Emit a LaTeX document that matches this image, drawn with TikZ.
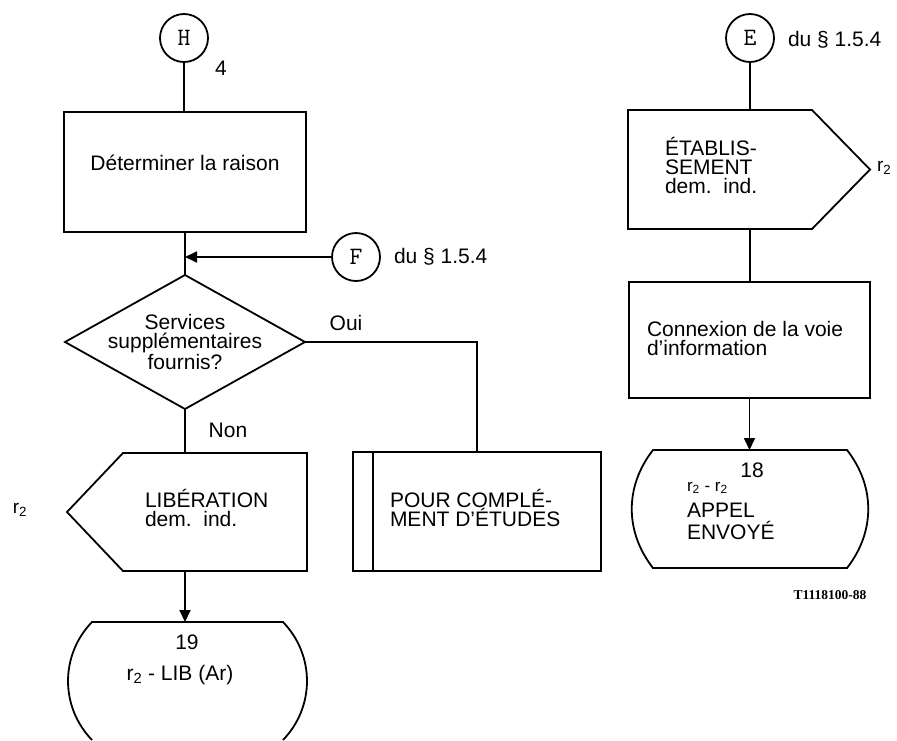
\documentclass[tikz,border=0pt]{standalone}
\usepackage{fontspec}
\setmainfont{Liberation Sans}
\newfontfamily\codefont{Liberation Serif}
\usetikzlibrary{shapes.geometric,arrows.meta}
\begin{document}
\begin{tikzpicture}[x=1pt,y=-1pt,
  every node/.style={inner sep=0pt, outer sep=0pt},
  ln/.style={line width=1.8pt},
  box/.style={draw, rectangle, line width=1.8pt},
  frame/.style={rectangle},
  circ/.style={draw, circle, line width=1.8pt, minimum size=48pt, font=\ttfamily\fontsize{25}{25}\selectfont},
  txt/.style={font=\fontsize{21}{19}\selectfont, align=left},
  ctxt/.style={font=\fontsize{21}{19}\selectfont, align=center},
  small/.style={font=\fontsize{19}{19}\selectfont},
  arr/.style={line width=1.8pt, -{Triangle[length=12pt,width=11pt]}},
]
\useasboundingbox (0,0) rectangle (897,740);

% ---------- left column ----------
\node[circ] (H) at (184,38) {H};
\node[font=\fontsize{21}{21}\selectfont] (h4) at (221,68) {4};
\node[box, minimum width=242pt, minimum height=120pt] (det) at (185,172) {};
\node[ctxt] (dett) at (185,163) {Déterminer la raison};

\node[circ] (F) at (356,257) {F};
\node[txt, anchor=west] (fdu) at (394,257) {du § 1.5.4};

\node[draw, diamond, line width=1.8pt, minimum width=240pt, minimum height=134pt] (dec) at (185,342) {};
\node[ctxt] (dect) at (185,342) {Services\\supplémentaires\\fournis?};
\node[txt] (oui) at (346,323) {Oui};
\node[txt] (non) at (228,430) {Non};

\node[frame, minimum width=184pt, minimum height=118pt] (lib) at (215,512) {};
\coordinate (libtip) at (67,512);
\node[txt, anchor=west] (libt) at (145,508) {LIBÉRATION\\dem.\ \ ind.};
\node[small] (r2a) at (20,510) {r\textsubscript{2}};

\node[box, minimum width=248pt, minimum height=119pt] (pour) at (477,511.5) {};
\node[txt, anchor=west] (pourt) at (390,508) {POUR COMPLÉ-\\MENT D’ÉTUDES};

\node[frame, minimum width=191pt, minimum height=118pt] (t19) at (187.5,681) {};
\node[font=\fontsize{21}{21}\selectfont] (n19) at (187,642) {19};
\node[font=\fontsize{21}{21}\selectfont] (t19t) at (180,675) {r\textsubscript{2} - LIB (Ar)};

% ---------- right column ----------
\node[circ] (E) at (750,38) {E};
\node[txt, anchor=west] (edu) at (788,40) {du § 1.5.4};

\node[frame, minimum width=184pt, minimum height=119pt] (etab) at (720,169.5) {};
\coordinate (etabtip) at (870,169.5);
\node[txt, anchor=west] (etabt) at (665,165) {ÉTABLIS-\\SEMENT\\dem.\ \ ind.};
\node[small, anchor=west] (r2b) at (877,168) {r\textsubscript{2}};

\node[box, minimum width=241pt, minimum height=116pt] (con) at (749.5,340) {};
\node[txt, anchor=west] (cont) at (647,338) {Connexion de la voie\\d’information};

\node[frame, minimum width=194pt, minimum height=118pt] (t18) at (750,509) {};
\node[font=\fontsize{21}{21}\selectfont] (n18) at (752,470) {18};
\node[anchor=west, font=\fontsize{17}{17}\selectfont] (r2r2) at (687,488) {r\textsubscript{2} - r\textsubscript{2}};
\node[anchor=west, align=left, font=\fontsize{21}{22}\selectfont] (appel) at (687,521) {APPEL\\ENVOYÉ};

\node[font=\codefont\bfseries\fontsize{13.5}{14}\selectfont] (ref) at (830,595) {T1118100-88};

% ---------- shapes ----------
\draw[ln] (lib.north west) -- (lib.north east) -- (lib.south east) -- (lib.south west) -- (libtip) -- cycle;
\draw[ln] ([xshift=20pt]pour.north west) -- ([xshift=20pt]pour.south west);
\draw[ln] (t19.south west) to[bend left=44] (t19.north west) -- (t19.north east) to[bend left=44] (t19.south east);
\draw[ln] (etab.north east) -- (etab.north west) -- (etab.south west) -- (etab.south east) -- (etabtip) -- cycle;
\draw[ln] (t18.south west) to[bend left=38] (t18.north west) -- (t18.north east) to[bend left=38] (t18.south east) -- cycle;

% ---------- connectors ----------
\draw[ln] (H.south) -- (H.south |- det.north);
\draw[ln] (det.south) -- (dec.north);
\draw[arr] (F.west) -- (F.west -| det.south);
\draw[ln] (dec.east) -| (pour.north);
\draw[ln] (dec.south) -- (dec.south |- lib.north);
\draw[arr] (dec.south |- lib.south) -- (dec.south |- t19.north);
\draw[ln] (E.south) -- (E.south |- etab.north);
\draw[ln] (E.south |- etab.south) -- (E.south |- con.north);
\draw[arr] (con.south) -- (con.south |- t18.north);
\end{tikzpicture}
\end{document}
